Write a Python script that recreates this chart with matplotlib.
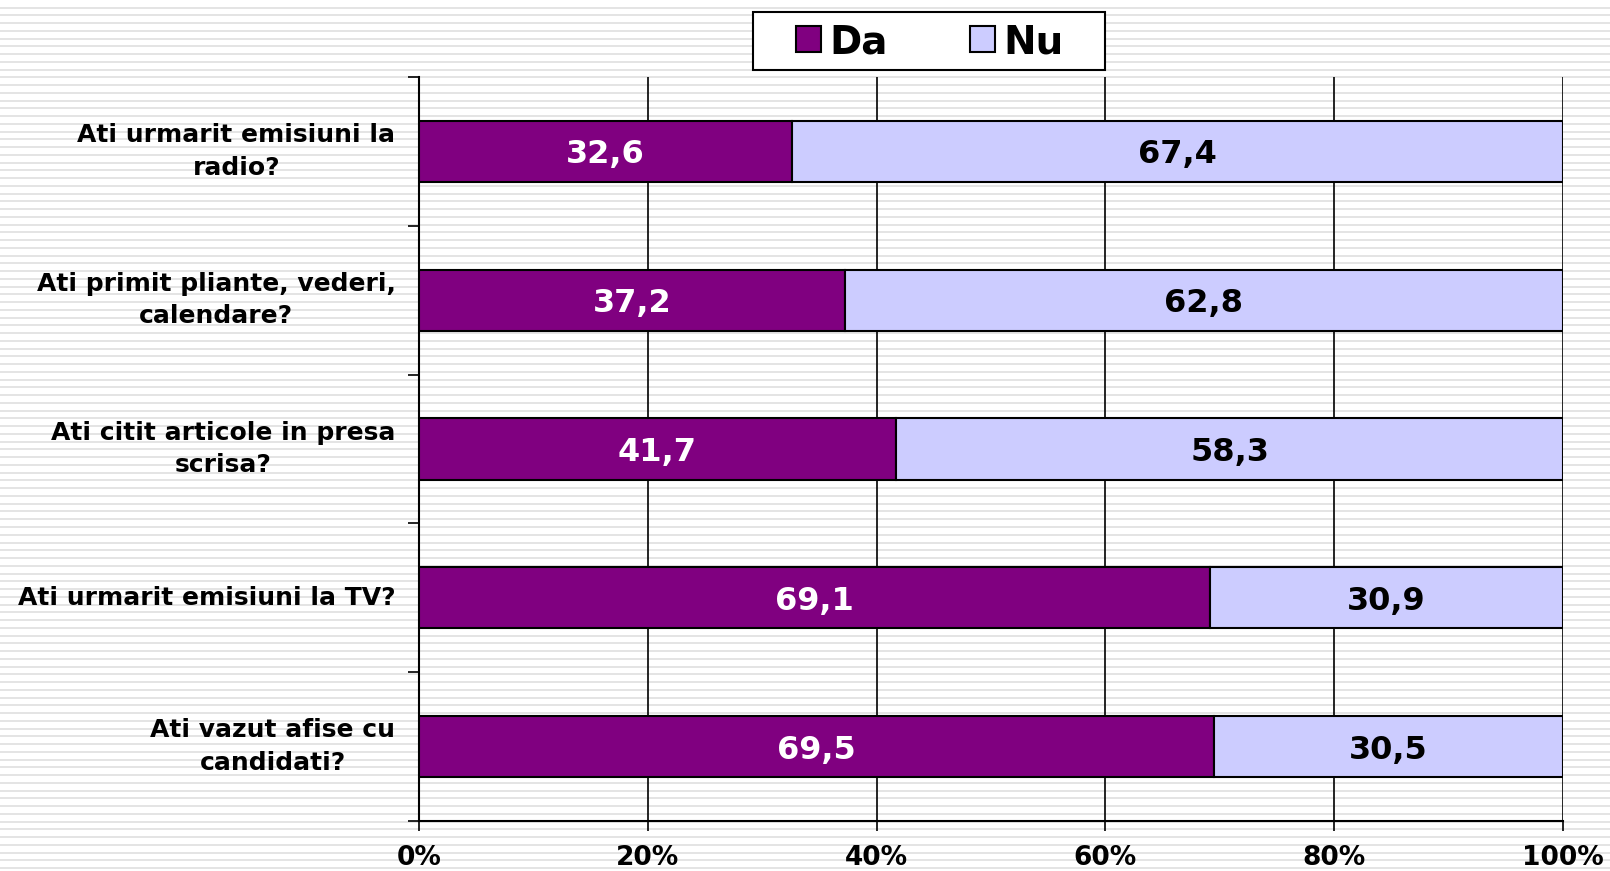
import matplotlib.pyplot as plt
from matplotlib.patches import Rectangle
import numpy as np

categories = ["Ati urmarit emisiuni la\nradio?",
              "Ati primit pliante, vederi,\ncalendare?",
              "Ati citit articole in presa\nscrisa?",
              "Ati urmarit emisiuni la TV?",
              "Ati vazut afise cu\ncandidati?"]
da = [32.6, 37.2, 41.7, 69.1, 69.5]
nu = [67.4, 62.8, 58.3, 30.9, 30.5]
xticks = [0, 20, 40, 60, 80, 100]

plt.rcParams['font.family'] = 'DejaVu Sans'
plt.rcParams['font.weight'] = 'bold'

W, H = 1610, 871
fig = plt.figure(figsize=(W/100, H/100), dpi=100)
fig.patch.set_facecolor('white')

# striped background
bg = fig.add_axes([0, 0, 1, 1])
bg.set_xlim(0, 1)
bg.set_ylim(0, H)
bg.hlines(np.arange(3, H, 7.75), 0, 1, color='#e2e2e2', lw=1.3)
bg.axis('off')
bg.set_zorder(0)

ax = fig.add_axes([419/W, 1-821/H, (1563-419)/W, (821-77)/H])
ax.set_zorder(1)
ax.patch.set_visible(False)

y = np.arange(len(categories))[::-1]
h = 0.41
ax.barh(y, da, height=h, color='#800080', edgecolor='black', lw=1.5, label='Da', zorder=3)
ax.barh(y, nu, left=da, height=h, color='#ccccff', edgecolor='black', lw=1.5, label='Nu', zorder=3)

for yi, a, b in zip(y, da, nu):
    ax.text(a/2, yi, f"{a:.1f}".replace('.', ','), ha='center', va='center_baseline',
            color='white', fontsize=23, fontweight='bold', zorder=4)
    ax.text(a + b/2, yi, f"{b:.1f}".replace('.', ','), ha='center', va='center_baseline',
            color='black', fontsize=23, fontweight='bold', zorder=4)

ax.set_xlim(0, 100)
ax.set_ylim(-0.5, len(categories)-0.5)
ax.set_xticks(xticks)
ax.set_xticklabels([f"{t}%" for t in xticks], fontsize=19, fontweight='bold')
ax.tick_params(axis='x', length=7, width=1.2, direction='out', pad=10)
ax.grid(axis='x', color='black', lw=1.2, zorder=0)

ax.set_yticks(y)
ax.set_yticklabels(categories, fontsize=18, fontweight='bold',
                   multialignment='center', linespacing=1.45)
for t in ax.get_yticklabels():
    t.set_va('center')
ax.tick_params(axis='y', which='major', length=0, pad=17)
ax.set_yticks(np.arange(-0.5, len(categories)), minor=True)
ax.tick_params(axis='y', which='minor', length=8, width=1.2, direction='out')

for s in ['top', 'right']:
    ax.spines[s].set_visible(False)
for s in ['left', 'bottom']:
    ax.spines[s].set_linewidth(1.5)

# legend with a hand-drawn box
fig.patches.append(Rectangle((753/W, 1-70/H), (1105-753)/W, 58/H, transform=fig.transFigure,
                             facecolor='white', edgecolor='black', lw=1.5, zorder=2))
leg = fig.legend(loc='center', bbox_to_anchor=(930/W, 1-42/H), ncol=2,
                 prop={'size': 28, 'weight': 'bold'}, frameon=False,
                 handlelength=0.65, handleheight=0.65,
                 columnspacing=2.1, handletextpad=0.22, borderpad=0.2)
leg.set_zorder(3)

fig.savefig('out.png', dpi=100)
